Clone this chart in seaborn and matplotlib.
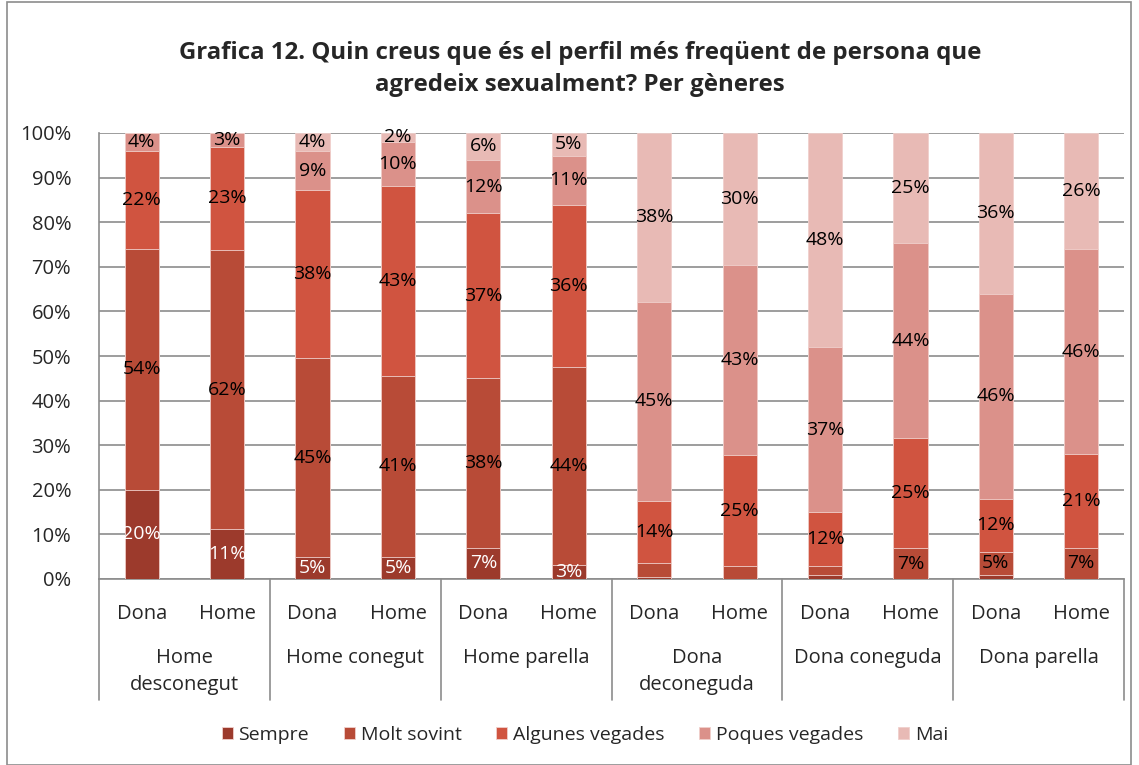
import numpy as np
import pandas as pd
import seaborn as sns
import matplotlib.pyplot as plt
from matplotlib.patches import Rectangle
import matplotlib.transforms as mtransforms

# data (percent of answers)
groups = ["Home\ndesconegut", "Home conegut", "Home parella",
          "Dona\ndeconeguda", "Dona coneguda", "Dona parella"]
genders = ["Dona", "Home"]
series = ["Sempre", "Molt sovint", "Algunes vegades", "Poques vegades", "Mai"]

sempre = [20, 11, 5, 5, 7, 3, 0.5, 0, 1, 0, 1, 0]
molt_sovint = [54, 62, 45, 41, 38, 44, 3, 3, 2, 7, 5, 7]
algunes = [22, 23, 38, 43, 37, 36, 14, 25, 12, 25, 12, 21]
poques = [4, 3, 9, 10, 12, 11, 45, 43, 37, 44, 46, 46]
mai = [0, 0, 4, 2, 6, 5, 38, 30, 48, 25, 36, 26]

# segments that have no label in the original
hidden = {("Sempre", 6), ("Sempre", 8), ("Sempre", 10),
          ("Molt sovint", 6), ("Molt sovint", 7), ("Molt sovint", 8)}

colors = ["#9c3a2c", "#b84b37", "#d05440", "#db918a", "#e8bab5"]
label_colors = ["white", "black", "black", "black", "black"]

bars = [f"{g}|{s}" for g in groups for s in genders]
df = pd.DataFrame({"bar": bars, "Sempre": sempre, "Molt sovint": molt_sovint,
                   "Algunes vegades": algunes, "Poques vegades": poques, "Mai": mai})
cum = df[series].cumsum(axis=1)
cum = cum.div(cum["Mai"], axis=0) * 100

sns.set_style("white")
plt.rcParams["font.family"] = ["Open Sans", "DejaVu Sans"]

fig = plt.figure(figsize=(11.39, 7.65), dpi=100)
ax = fig.add_axes([99 / 1139, 1 - 579 / 765, 1025 / 1139, 446 / 765])

# draw stacked bars: tallest cumulative first so each shorter one sits on top
for i in range(len(series) - 1, -1, -1):
    name = series[i]
    sns.barplot(x=df["bar"], y=cum[name], color=colors[i], width=0.4,
                saturation=1, edgecolor="#f0d0cc", linewidth=0.6, ax=ax,
                label=name, zorder=3)

# data labels
for i, name in enumerate(series):
    lower = cum[series[i - 1]] if i > 0 else pd.Series(np.zeros(len(df)))
    for j in range(len(df)):
        v = df[name][j]
        if v < 1.5 or (name, j) in hidden:
            continue
        mid = (lower[j] + cum[name][j]) / 2
        ax.text(j, mid, f"{v:.0f}%", ha="center", va="center", fontsize=14,
                color=label_colors[i], zorder=5)

ax.set_ylim(0, 100)
ax.set_xlim(-0.5, len(df) - 0.5)
ax.set_yticks(range(0, 101, 10))
ax.set_yticklabels([f"{t}%" for t in range(0, 101, 10)], fontsize=14.5)
ax.yaxis.grid(True, color="#8c8c8c", linewidth=1.2, zorder=0)
ax.set_axisbelow(True)
for s in ["top", "right"]:
    ax.spines[s].set_visible(False)
for s in ["left", "bottom"]:
    ax.spines[s].set_color("#8c8c8c")
    ax.spines[s].set_linewidth(1.2)
ax.tick_params(axis="y", length=0, pad=20)
ax.set_xlabel("")
ax.set_ylabel("")

# multi level category axis
ax.set_xticks(range(len(df)))
ax.set_xticklabels([b.split("|")[1] for b in bars], fontsize=14.5)
ax.tick_params(axis="x", length=0, pad=18)
trans = mtransforms.blended_transform_factory(ax.transData, ax.transAxes)
for k in range(len(groups) + 1):
    xs = 2 * k - 0.5
    ax.plot([xs, xs], [0, -0.272], transform=trans, color="#8c8c8c",
            linewidth=1.2, clip_on=False)
for k, g in enumerate(groups):
    ax.text(2 * k + 0.5, -0.155, g, transform=trans, ha="center", va="top",
            fontsize=14.5, linespacing=1.45)

handles, labels = ax.get_legend_handles_labels()
if ax.legend_ is not None:
    ax.legend_.remove()
order = [labels.index(s) for s in series]
fig.legend([handles[o] for o in order], series, loc="center",
           bbox_to_anchor=(585 / 1139, 1 - 735 / 765), ncol=5, frameon=False,
           fontsize=14, handlelength=0.55, handleheight=0.55, handletextpad=0.3,
           columnspacing=1.8)

fig.text(580 / 1139, 1 - 69 / 765,
         "Grafica 12. Quin creus que és el perfil més freqüent de persona que\n"
         "agredeix sexualment? Per gèneres",
         ha="center", va="center", fontsize=17.3, fontweight="bold", linespacing=1.45)

fig.patches.append(Rectangle((7 / 1139, 0), 1124 / 1139, 1 - 2 / 765,
                             transform=fig.transFigure, fill=False,
                             edgecolor="#8c8c8c", linewidth=1.2))

fig.savefig("out.png", dpi=100)
